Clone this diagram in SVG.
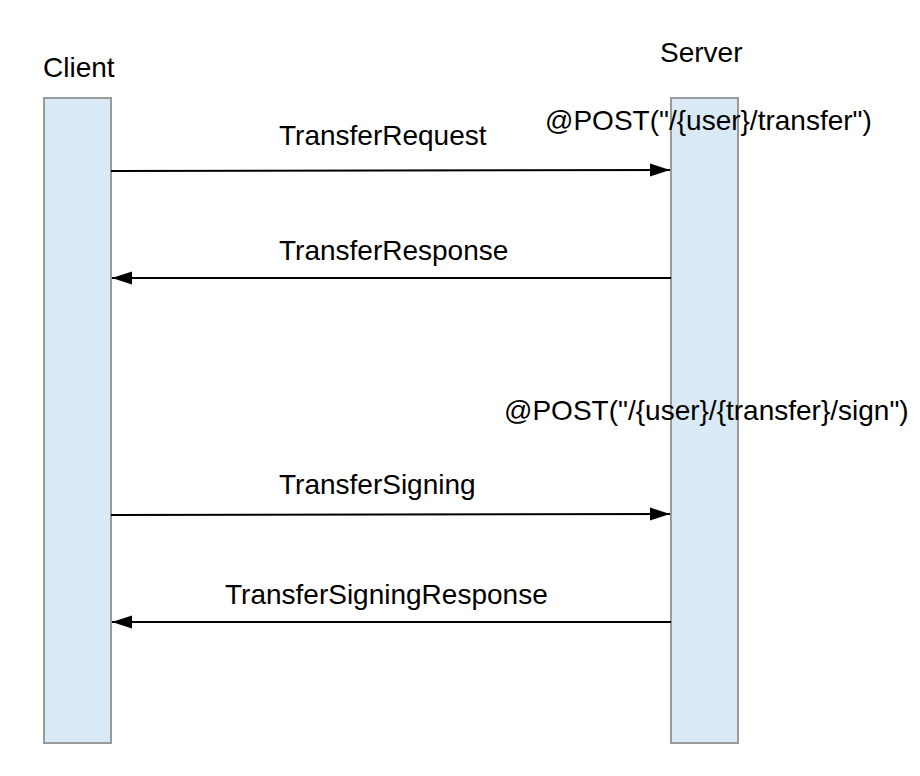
<svg xmlns="http://www.w3.org/2000/svg" width="920" height="776" viewBox="0 0 920 776">
<style>
.life{fill:#d9eaf6;stroke:#9a9a9a;stroke-width:2}
.t{font-family:"Liberation Sans",Arial,sans-serif;font-size:28px;fill:#000}
.msg{stroke:#000;stroke-width:2;fill:none}
</style>
<defs>
<marker id="ah" markerUnits="userSpaceOnUse" markerWidth="20" markerHeight="14" refX="20" refY="7" orient="auto">
<path d="M0,0.5 L20,7 L0,13.5 Z" fill="#000"/>
</marker>
</defs>
<rect width="920" height="776" fill="#fff"/>
<g id="client">
<rect class="life" x="44" y="98" width="67" height="645"/>
<text class="t" x="43" y="77">Client</text>
</g>
<g id="server">
<rect class="life" x="671" y="98" width="67" height="645"/>
<text class="t" x="660" y="62">Server</text>
<text class="t" x="545" y="130">@POST("/{user}/transfer")</text>
<text class="t" x="504" y="420">@POST("/{user}/{transfer}/sign")</text>
</g>
<g id="connectors">
<line class="msg" x1="111" y1="171" x2="670" y2="170" marker-end="url(#ah)"/>
<line class="msg" x1="671" y1="278" x2="112" y2="278" marker-end="url(#ah)"/>
<line class="msg" x1="111" y1="515" x2="670" y2="514" marker-end="url(#ah)"/>
<line class="msg" x1="671" y1="622" x2="112" y2="622" marker-end="url(#ah)"/>
</g>
<g id="labels">
<text class="t" x="279" y="145">TransferRequest</text>
<text class="t" x="279" y="260">TransferResponse</text>
<text class="t" x="279" y="494">TransferSigning</text>
<text class="t" x="225" y="604">TransferSigningResponse</text>
</g>
</svg>
